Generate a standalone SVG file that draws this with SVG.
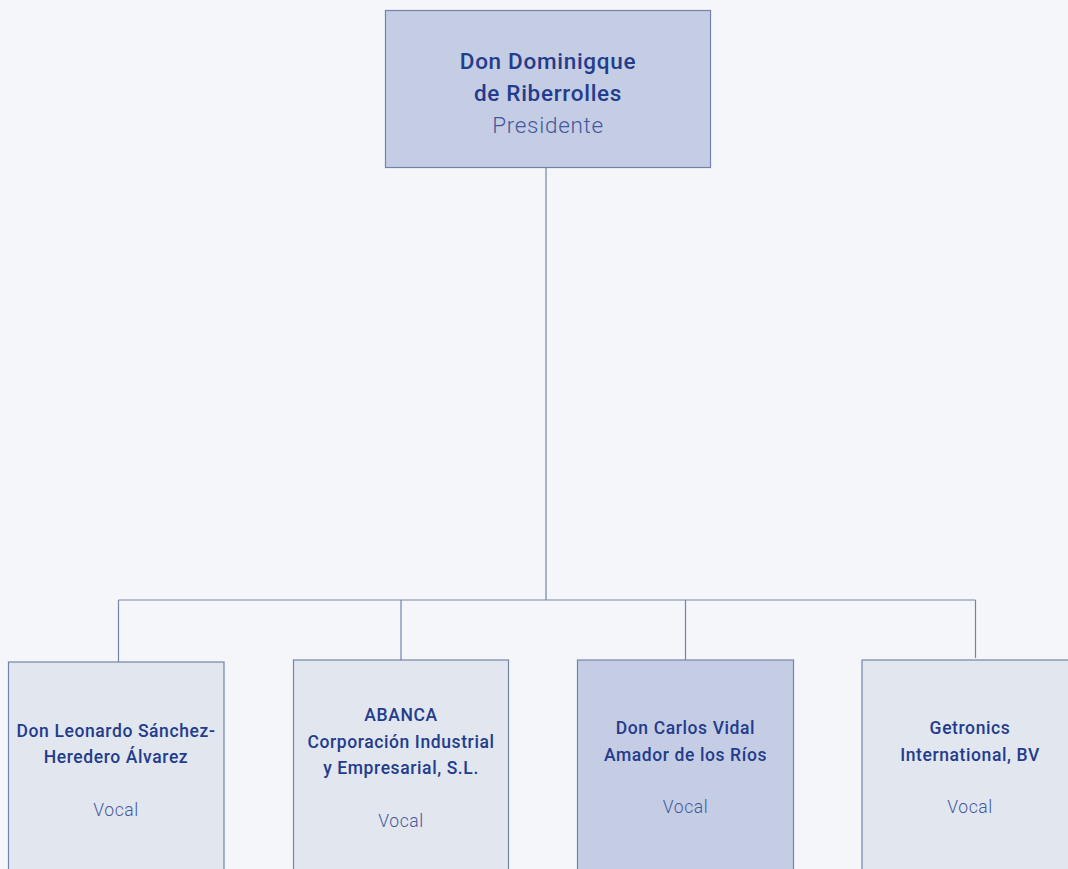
<svg xmlns="http://www.w3.org/2000/svg" width="1068" height="869" viewBox="0 0 1068 869">
<style>
.bg{fill:#f4f6fa}
.box{stroke:#7484a8;stroke-width:1.2}
.light{fill:#e2e6ef}
.dark{fill:#c5cde4}
.conn{stroke:#7484a8;stroke-width:1.2;fill:none}
text{font-family:Roboto,"Noto Sans",sans-serif;text-anchor:middle}
.name{fill:#233c8c;font-weight:500;font-size:17.5px;letter-spacing:0.6px}
.role{fill:#42589e;font-weight:300;font-size:17.5px;letter-spacing:0.6px}
.tname{fill:#233c8c;font-weight:500;font-size:22.5px;letter-spacing:0.7px}
.trole{fill:#42589e;font-weight:300;font-size:22.5px;letter-spacing:0.7px}
</style>
<rect class="bg" x="0" y="0" width="1068" height="869"/>
<g id="connectors">
<line class="conn" x1="546" y1="167.5" x2="546" y2="600"/>
<line class="conn" x1="118.5" y1="600" x2="975.5" y2="600"/>
<line class="conn" x1="118.5" y1="600" x2="118.5" y2="662"/>
<line class="conn" x1="401" y1="600" x2="401" y2="661"/>
<line class="conn" x1="685.5" y1="600" x2="685.5" y2="661"/>
<line class="conn" x1="975.5" y1="600" x2="975.5" y2="658"/>
</g>
<g id="presidente">
<rect class="box dark" x="385.5" y="10.5" width="325" height="157"/>
<text class="tname" x="548" y="69">Don Dominigque</text>
<text class="tname" x="548" y="101">de Riberrolles</text>
<text class="trole" x="548" y="133">Presidente</text>
</g>
<g id="vocal1">
<rect class="box light" x="8.5" y="662" width="215.5" height="220"/>
<text class="name" x="116" y="737">Don Leonardo Sánchez-</text>
<text class="name" x="116" y="763">Heredero Álvarez</text>
<text class="role" x="116" y="816">Vocal</text>
</g>
<g id="vocal2">
<rect class="box light" x="293.5" y="660" width="215" height="220"/>
<text class="name" x="401" y="721">ABANCA</text>
<text class="name" x="401" y="748">Corporación Industrial</text>
<text class="name" x="401" y="774">y Empresarial, S.L.</text>
<text class="role" x="401" y="827">Vocal</text>
</g>
<g id="vocal3">
<rect class="box dark" x="577.5" y="660" width="216" height="220"/>
<text class="name" x="685.5" y="734">Don Carlos Vidal</text>
<text class="name" x="685.5" y="761">Amador de los Ríos</text>
<text class="role" x="685.5" y="813">Vocal</text>
</g>
<g id="vocal4">
<rect class="box light" x="862" y="660" width="216" height="220"/>
<text class="name" x="970" y="734">Getronics</text>
<text class="name" x="970" y="761">International, BV</text>
<text class="role" x="970" y="813">Vocal</text>
</g>
</svg>
